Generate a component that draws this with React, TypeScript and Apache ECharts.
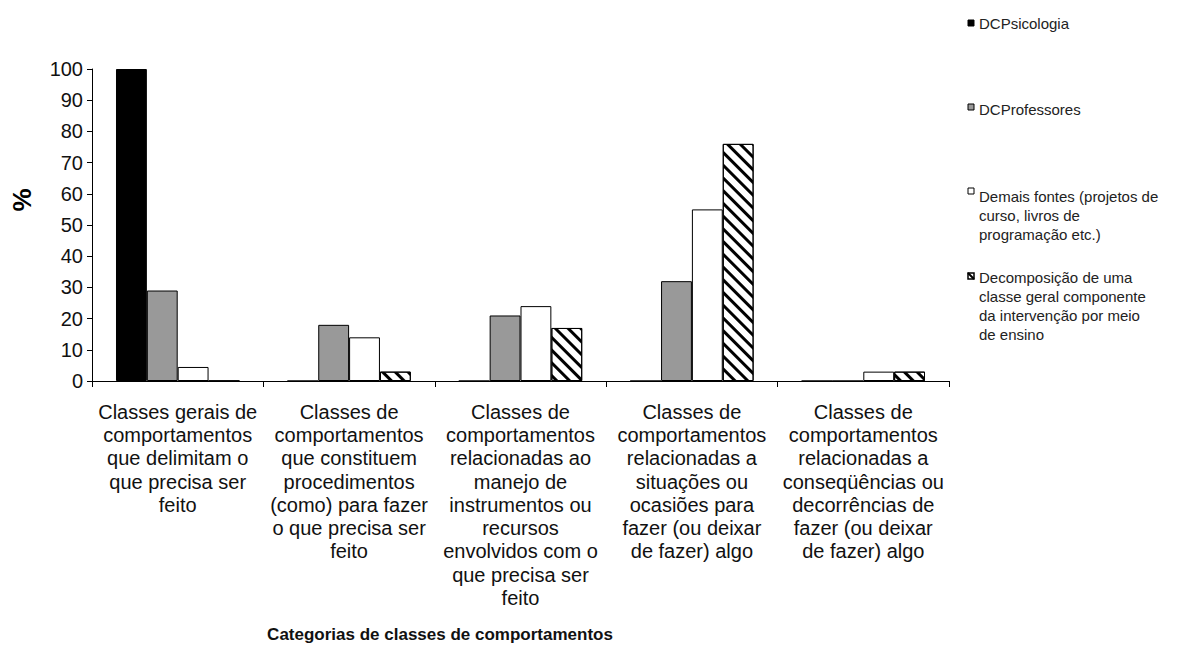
import React, { useEffect, useRef } from "react";
import * as echarts from "echarts";

const categories = [
  "Classes gerais de\ncomportamentos\nque delimitam o\nque precisa ser\nfeito",
  "Classes de\ncomportamentos\nque constituem\nprocedimentos\n(como) para fazer\no que precisa ser\nfeito",
  "Classes de\ncomportamentos\nrelacionadas ao\nmanejo de\ninstrumentos ou\nrecursos\nenvolvidos com o\nque precisa ser\nfeito",
  "Classes de\ncomportamentos\nrelacionadas a\nsituações ou\nocasiões para\nfazer (ou deixar\nde fazer) algo",
  "Classes de\ncomportamentos\nrelacionadas a\nconseqüências ou\ndecorrências de\nfazer (ou deixar\nde fazer) algo",
];

const seriesNames = [
  "DCPsicologia",
  "DCProfessores",
  "Demais fontes (projetos de curso, livros de programação etc.)",
  "Decomposição de uma classe geral componente da intervenção por meio de ensino",
];

const legendLines = [
  ["DCPsicologia"],
  ["DCProfessores"],
  ["Demais fontes (projetos de", "curso, livros de", "programação etc.)"],
  ["Decomposição de uma", "classe geral componente", "da intervenção por meio", "de ensino"],
];

const dcPsicologia = [100, 0, 0, 0, 0];
const dcProfessores = [29, 18, 21, 32, 0];
const demaisFontes = [4.5, 14, 24, 55, 3];
const decomposicao = [0, 3, 17, 76, 3];

const yTicks = { min: 0, max: 100, interval: 10 };

const FONT = '"Liberation Sans", Arial, Helvetica, sans-serif';

export default function App() {
  const ref = useRef<HTMLDivElement>(null);
  useEffect(() => {
    if (!ref.current) return;
    const chart = echarts.init(ref.current, null, { renderer: "svg" });
    const border = { borderColor: "#000", borderWidth: 1 };
    const hatch = {
      symbol: "rect",
      symbolSize: 1,
      color: "#000",
      dashArrayX: [1, 0],
      dashArrayY: [3, 6],
      rotation: Math.PI / 4,
    };
    const markerTop = [20, 104, 188, 273];
    const textTop = [13.5, 99.5, 186.5, 268];
    const markerStyles: any[] = [
      { fill: "#000", stroke: "#000", lineWidth: 1 },
      { fill: "#999", stroke: "#000", lineWidth: 1 },
      { fill: "#fff", stroke: "#000", lineWidth: 1 },
      { fill: "#fff", stroke: "#000", lineWidth: 1.5 },
    ];
    const legendGraphics: any[] = [];
    legendLines.forEach((lines, i) => {
      legendGraphics.push({
        type: "rect",
        shape: { x: 968, y: markerTop[i], width: 6, height: 6 },
        style: markerStyles[i],
      });
      if (i === 3) {
        legendGraphics.push({
          type: "line",
          shape: { x1: 968, y1: markerTop[i], x2: 974, y2: markerTop[i] + 6 },
          style: { stroke: "#000", lineWidth: 2 },
        });
      }
      legendGraphics.push({
        type: "text",
        x: 979,
        y: textTop[i],
        style: {
          text: lines.join("\n"),
          font: `15px ${FONT}`,
          lineHeight: 19,
          fill: "#222",
          verticalAlign: "top",
          align: "left",
        },
      });
    });

    chart.setOption({
      animation: false,
      backgroundColor: "#fff",
      grid: { left: 92, right: 238, top: 69, bottom: 265 },
      xAxis: {
        type: "category",
        data: categories,
        axisLine: { lineStyle: { color: "#000", width: 1 } },
        axisTick: { show: true, length: 6, lineStyle: { color: "#000" } },
        axisLabel: {
          interval: 0,
          margin: 19,
          color: "#111",
          fontFamily: FONT,
          fontSize: 20,
          lineHeight: 23.3,
          align: "center",
        },
      },
      yAxis: {
        type: "value",
        min: yTicks.min,
        max: yTicks.max,
        interval: yTicks.interval,
        splitLine: { show: false },
        axisLine: { show: true, lineStyle: { color: "#000", width: 1 } },
        axisTick: { show: true, length: 5, lineStyle: { color: "#000" } },
        axisLabel: {
          color: "#111",
          fontFamily: FONT,
          fontSize: 20,
          margin: 9,
        },
      },
      series: [
        {
          name: seriesNames[0],
          type: "bar",
          data: dcPsicologia,
          barGap: "0%",
          barCategoryGap: "28%",
          itemStyle: { color: "#000", ...border },
        },
        {
          name: seriesNames[1],
          type: "bar",
          data: dcProfessores,
          itemStyle: { color: "#999", ...border },
        },
        {
          name: seriesNames[2],
          type: "bar",
          data: demaisFontes,
          itemStyle: { color: "#fff", ...border },
        },
        {
          name: seriesNames[3],
          type: "bar",
          data: decomposicao,
          itemStyle: { color: "#fff", ...border, decal: hatch },
        },
      ],
      graphic: [
        {
          type: "text",
          x: 21.5,
          y: 200,
          rotation: Math.PI / 2,
          style: {
            text: "%",
            font: `bold 26px ${FONT}`,
            fill: "#000",
            align: "center",
            verticalAlign: "middle",
          },
        },
        {
          type: "text",
          x: 440,
          y: 634,
          style: {
            text: "Categorias de classes de comportamentos",
            font: `bold 17px ${FONT}`,
            fill: "#111",
            align: "center",
            verticalAlign: "middle",
          },
        },
        ...legendGraphics,
      ],
    });
    return () => chart.dispose();
  }, []);
  return (
    <div
      ref={ref}
      style={{ position: "fixed", left: 0, top: 0, width: "1187px", height: "646px" }}
    />
  );
}
